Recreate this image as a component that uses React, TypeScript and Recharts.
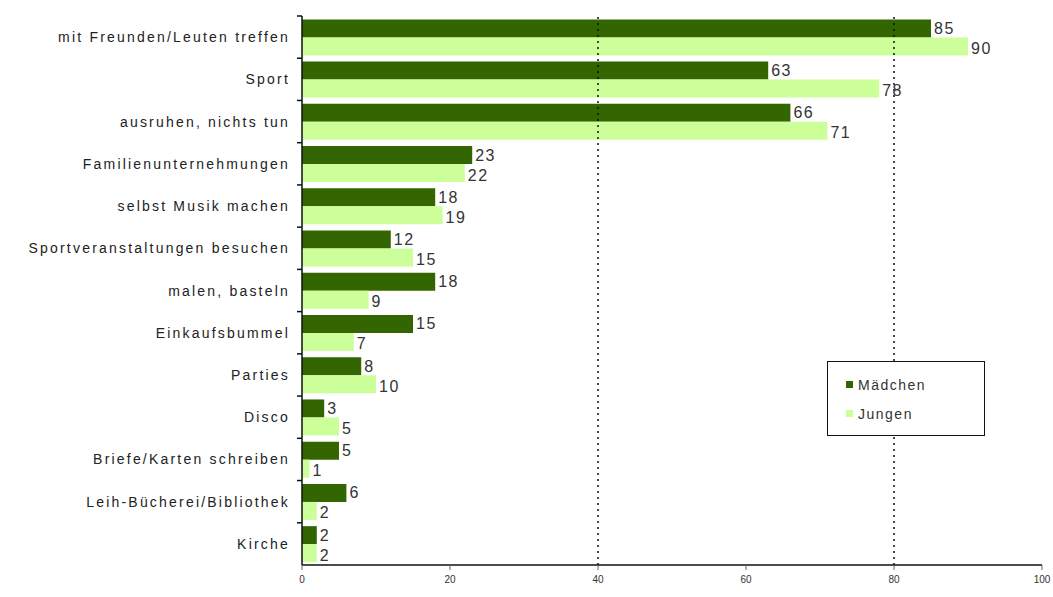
import { BarChart, Bar, XAxis, YAxis, ReferenceLine, LabelList } from 'recharts';

const categories = [
  'mit Freunden/Leuten treffen',
  'Sport',
  'ausruhen, nichts tun',
  'Familienunternehmungen',
  'selbst Musik machen',
  'Sportveranstaltungen besuchen',
  'malen, basteln',
  'Einkaufsbummel',
  'Parties',
  'Disco',
  'Briefe/Karten schreiben',
  'Leih-Bücherei/Bibliothek',
  'Kirche',
];
const maedchen = [85, 63, 66, 23, 18, 12, 18, 15, 8, 3, 5, 6, 2];
const jungen = [90, 78, 71, 22, 19, 15, 9, 7, 10, 5, 1, 2, 2];
const xTicks = [0, 20, 40, 60, 80, 100];

const data = categories.map((name, i) => ({ name, maedchen: maedchen[i], jungen: jungen[i] }));

const DARK = '#336600';
const LIGHT = '#ccff99';
const FONT = 'Arial, Liberation Sans, sans-serif';

const W = 1053;
const H = 597;
const margin = { top: 16, right: 11, left: 0, bottom: 2 };
const xAxisHeight = 30;
const bandSize = (H - margin.top - margin.bottom - xAxisHeight) / categories.length;
const TICK_SIZE = 6;
const TICK_MARGIN = 6;

const valueLabel = (dy: number) => (props: any) => {
  const { x, y, width, height, value } = props;
  return (
    <text
      x={x + width + 3}
      y={y + height / 2 + dy}
      fill="#333"
      fontSize={16}
      letterSpacing={1.5}
      fontFamily={FONT}
      dominantBaseline="central"
    >
      {value}
    </text>
  );
};

// excel style: tick marks between the categories, label in the middle
function CategoryTick(props: any) {
  const { x, y, payload } = props;
  const axisX = x + TICK_SIZE + TICK_MARGIN;
  const top = y - bandSize / 2;
  return (
    <g>
      <line x1={axisX - 5} x2={axisX} y1={top} y2={top} stroke="#111" strokeWidth={1.5} />
      <text
        x={x}
        y={y}
        textAnchor="end"
        dominantBaseline="central"
        fill="#222"
        fontSize={14}
        letterSpacing={2.2}
        fontFamily={FONT}
      >
        {payload.value}
      </text>
    </g>
  );
}

// legend box drawn as plain html on top of the chart
function LegendBox() {
  return (
    <div
      style={{
        position: 'absolute',
        left: 827,
        top: 361,
        border: '1.5px solid #111',
        background: '#fff',
        width: 158,
        height: 75,
        boxSizing: 'border-box',
        padding: '8px 0 0 18px',
        fontFamily: FONT,
        fontSize: 14,
        letterSpacing: 1.5,
        color: '#333',
      }}
    >
      {[
        ['Mädchen', DARK],
        ['Jungen', LIGHT],
      ].map(([label, color]) => (
        <div key={label} style={{ display: 'flex', alignItems: 'center', height: 29 }}>
          <span style={{ display: 'inline-block', width: 7, height: 7, background: color, marginRight: 5 }} />
          {label}
        </div>
      ))}
    </div>
  );
}

export default function App() {
  return (
    <div style={{ position: 'absolute', left: 0, top: 0, width: W, height: H, background: '#fff' }}>
      <BarChart
        width={W}
        height={H}
        data={data}
        layout="vertical"
        margin={margin}
        barCategoryGap="8%"
        barGap={0}
      >
        <XAxis
          type="number"
          domain={[0, 100]}
          ticks={xTicks}
          height={xAxisHeight}
          tick={{ fill: '#333', fontSize: 10, fontFamily: FONT }}
          tickLine={{ stroke: '#666' }}
          tickSize={5}
          tickMargin={6}
          axisLine={{ stroke: '#111', strokeWidth: 1.5 }}
        />
        <YAxis
          type="category"
          dataKey="name"
          width={302}
          tick={<CategoryTick />}
          tickLine={false}
          tickSize={TICK_SIZE}
          tickMargin={TICK_MARGIN}
          axisLine={{ stroke: '#111', strokeWidth: 1.5 }}
          interval={0}
        />
        <ReferenceLine x={40} stroke="#111" strokeDasharray="2 4" strokeWidth={1.5} />
        <ReferenceLine x={80} stroke="#111" strokeDasharray="2 4" strokeWidth={1.5} />
        <Bar dataKey="maedchen" name="Mädchen" fill={DARK} isAnimationActive={false}>
          <LabelList dataKey="maedchen" content={valueLabel(0)} />
        </Bar>
        <Bar dataKey="jungen" name="Jungen" fill={LIGHT} isAnimationActive={false}>
          <LabelList dataKey="jungen" content={valueLabel(2)} />
        </Bar>
      </BarChart>
      <LegendBox />
    </div>
  );
}
